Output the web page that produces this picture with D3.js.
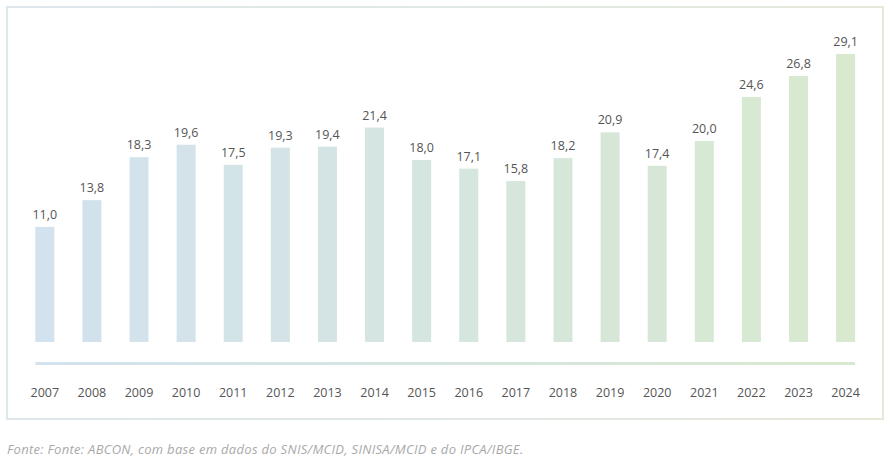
<!DOCTYPE html>
<html lang="pt">

<head>
    <meta charset="UTF-8">
    <title>Investimentos</title>
    <script src="https://d3js.org/d3.v7.min.js"></script>
    <style>
        body {
            margin: 0;
            background: #fff;
        }

        .value {
            font-family: "Open Sans", sans-serif;
            font-size: 12.5px;
            fill: #555;
        }

        .year {
            font-family: "Open Sans", sans-serif;
            font-size: 12.5px;
            fill: #555;
        }

        .fonte {
            font-family: "Open Sans", sans-serif;
            font-size: 13px;
            font-style: italic;
            letter-spacing: 0.3px;
            fill: #a9a9a9;
        }
    </style>
</head>

<body>
    <svg width="893" height="471"></svg>
    <script>
        // Dados
        const anos = ["2007", "2008", "2009", "2010", "2011", "2012", "2013", "2014", "2015",
            "2016", "2017", "2018", "2019", "2020", "2021", "2022", "2023", "2024"];
        const valores = [11.0, 13.8, 18.3, 19.6, 17.5, 19.3, 19.4, 21.4, 18.0,
            17.1, 15.8, 18.2, 20.9, 17.4, 20.0, 24.6, 26.8, 29.1];
        const fonte = "Fonte: Fonte: ABCON, com base em dados do SNIS/MCID, SINISA/MCID e do IPCA/IBGE.";

        const width = 893;
        const height = 471;
        const svg = d3.select("svg")
            .attr("width", width)
            .attr("height", height);

        // cores: azul claro -> verde claro
        const corIni = "#d2e2ef";
        const corFim = "#d8e9cf";
        const cor = d3.scaleLinear().domain([0, anos.length - 1]).range([corIni, corFim])
            .interpolate(d3.interpolateRgb);

        const defs = svg.append("defs");
        const grad = defs.append("linearGradient").attr("id", "grad");
        grad.append("stop").attr("offset", "0%").attr("stop-color", corIni);
        grad.append("stop").attr("offset", "100%").attr("stop-color", corFim);
        const gradBorda = defs.append("linearGradient").attr("id", "gradBorda");
        gradBorda.append("stop").attr("offset", "0%").attr("stop-color", "#dde7ec");
        gradBorda.append("stop").attr("offset", "100%").attr("stop-color", "#e4e9da");

        // moldura
        svg.append("rect")
            .attr("x", 7)
            .attr("y", 7)
            .attr("width", 876)
            .attr("height", 412)
            .attr("fill", "none")
            .attr("stroke", "url(#gradBorda)")
            .attr("stroke-width", 2);

        // escalas
        const x = d3.scalePoint().domain(anos).range([44.8, 845.6]);
        const y = d3.scaleLinear().domain([-1.05, 29.1]).range([342, 54]);
        const barW = 19;

        // barras
        svg.append("g")
            .selectAll("rect")
            .data(valores)
            .join("rect")
            .attr("x", (d, i) => x(anos[i]) - barW / 2)
            .attr("y", d => y(d))
            .attr("width", barW)
            .attr("height", d => y(-1.05) - y(d))
            .attr("fill", (d, i) => cor(i));

        // rótulos de valor
        svg.append("g")
            .selectAll("text")
            .data(valores)
            .join("text")
            .attr("class", "value")
            .attr("x", (d, i) => x(anos[i]))
            .attr("y", d => y(d) - 8)
            .attr("text-anchor", "middle")
            .text(d => d3.format(".1f")(d).replace(".", ","));

        // linha do eixo
        svg.append("rect")
            .attr("x", x(anos[0]) - barW / 2)
            .attr("y", 362)
            .attr("width", x(anos[anos.length - 1]) - x(anos[0]) + barW)
            .attr("height", 3)
            .attr("fill", "url(#grad)");

        // anos
        svg.append("g")
            .selectAll("text")
            .data(anos)
            .join("text")
            .attr("class", "year")
            .attr("x", d => x(d))
            .attr("y", 397)
            .attr("text-anchor", "middle")
            .text(d => d);

        // fonte
        svg.append("text")
            .attr("class", "fonte")
            .attr("x", 7)
            .attr("y", 454)
            .text(fonte);
    </script>
</body>

</html>
